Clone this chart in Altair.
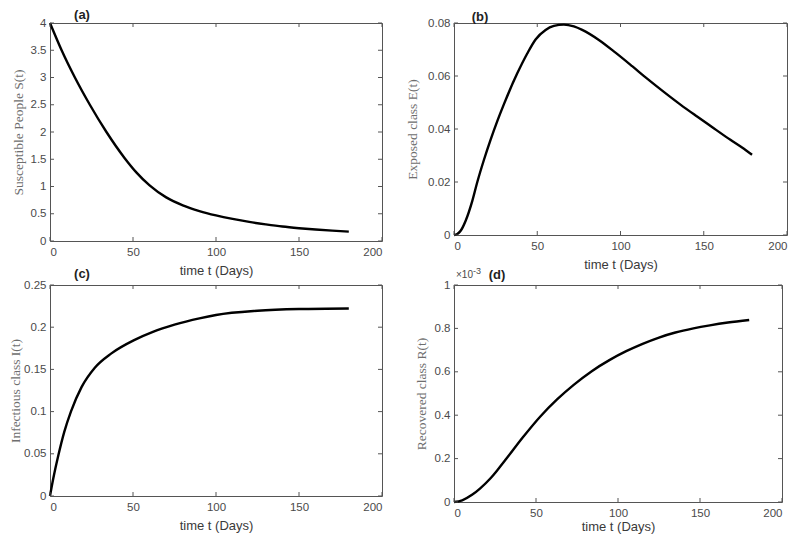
import altair as alt
import pandas as pd

# ---------------- data ----------------
x_ticks = [0, 50, 100, 150, 200]

# (a) Susceptible people S(t)
time_a = [0, 7, 15, 24, 34, 45, 52, 60, 70, 80, 90, 100, 110, 120, 130, 140, 150, 160, 170, 180]
susceptible = [4.0, 3.5, 3.0, 2.5, 2.0, 1.52, 1.26, 1.02, 0.8, 0.655, 0.55, 0.47, 0.405, 0.35,
               0.305, 0.265, 0.235, 0.21, 0.19, 0.172]
ticks_a = [0, 0.5, 1, 1.5, 2, 2.5, 3, 3.5, 4]

# (b) Exposed class E(t)
time_b = [0, 2, 4, 7, 11, 14, 18, 22, 26, 30, 38, 44, 49, 55, 60, 66, 72, 77, 87, 97, 107, 116,
          126, 136, 146, 156, 166, 173, 179]
exposed = [0, 0.0004, 0.0016, 0.0054, 0.0129, 0.02, 0.0284, 0.036, 0.043, 0.0494, 0.061, 0.0685,
           0.0738, 0.0774, 0.0789, 0.0794, 0.0787, 0.0774, 0.0736, 0.0688, 0.0637, 0.059, 0.054,
           0.0492, 0.0447, 0.0403, 0.0359, 0.033, 0.0303]
ticks_b = [0, 0.02, 0.04, 0.06, 0.08]

# (c) Infectious class I(t)
time_c = [0, 2, 5, 8.6, 12.6, 19, 27, 37, 51, 62, 75, 90, 100, 125, 150, 180]
infectious = [0, 0.021, 0.048, 0.076, 0.1, 0.129, 0.152, 0.169, 0.185, 0.1945, 0.203, 0.2105,
              0.2145, 0.2195, 0.2215, 0.2222]
ticks_c = [0, 0.05, 0.1, 0.15, 0.2, 0.25]

# (d) Recovered class R(t), in units of 10^-3
time_d = [0, 5, 11, 16, 22, 27, 32, 42, 52.5, 63, 73, 84, 95, 105, 115, 125, 135, 146, 156, 167,
          180]
recovered_e3 = [0, 0.008, 0.033, 0.063, 0.107, 0.152, 0.2, 0.298, 0.393, 0.474, 0.54, 0.603, 0.655,
                0.695, 0.729, 0.758, 0.781, 0.8, 0.814, 0.827, 0.839]
ticks_d = [0, 0.2, 0.4, 0.6, 0.8, 1]

FRAME = "#555555"
LABEL = "#4a4a4a"
YTITLE = "#6e6e6e"
SANS = "Liberation Sans"
SERIF = "Liberation Serif"


def panel(times, values, yticks, ytitle, w, h, tag, tag_dx, tag_dy, ytpad, xtpad, extra=None):
    df = pd.DataFrame({"t": times, "v": values})
    xs = alt.Scale(domain=[0, 200], nice=False)
    ys = alt.Scale(domain=[yticks[0], yticks[-1]], nice=False)
    xax = alt.Axis(
        values=x_ticks, format="d", title="time t (Days)", ticks=False, tickSize=0,
        domain=False, grid=False, labelFont=SANS, labelFontSize=11.5, labelColor=LABEL,
        labelPadding=5, titleFont=SANS, titleFontSize=13, titleFontWeight="normal",
        titleColor="#3a3a3a", titlePadding=xtpad)
    yax = alt.Axis(
        values=yticks, format="~g", title=ytitle, ticks=False, tickSize=0,
        domain=False, grid=False, labelFont=SANS, labelFontSize=11.5, labelColor=LABEL,
        labelPadding=4, titleFont=SERIF, titleFontSize=13.5, titleFontWeight="normal",
        titleColor=YTITLE, titlePadding=ytpad)
    X = lambda: alt.X("t:Q", scale=xs, axis=xax, title="time t (Days)")
    Y = lambda: alt.Y("v:Q", scale=ys, axis=yax, title=ytitle)
    line = alt.Chart(df).mark_line(color="black", strokeWidth=2.4, interpolate="monotone").encode(
        x=X(), y=Y())
    xt = pd.DataFrame({"t": x_ticks})
    yt = pd.DataFrame({"v": yticks})
    rule = dict(color=FRAME, strokeWidth=1)
    xb = alt.Chart(xt).mark_rule(**rule).encode(x=X(), y=alt.value(h), y2=alt.value(h - 4))
    xtp = alt.Chart(xt).mark_rule(**rule).encode(x=X(), y=alt.value(0), y2=alt.value(4))
    yl = alt.Chart(yt).mark_rule(**rule).encode(y=Y(), x=alt.value(0), x2=alt.value(4))
    yr = alt.Chart(yt).mark_rule(**rule).encode(y=Y(), x=alt.value(w - 4), x2=alt.value(w))
    lab = alt.Chart(pd.DataFrame({"k": [tag]})).mark_text(
        font=SANS, fontSize=13, fontWeight="bold", color="#222222", align="center",
        baseline="middle").encode(x=alt.value(tag_dx), y=alt.value(tag_dy), text="k:N")
    layers = [line, xb, xtp, yl, yr, lab]
    if extra:
        layers += extra
    return alt.layer(*layers).properties(width=w, height=h)


exp_a = alt.Chart(pd.DataFrame({"k": ["\u00d710"]})).mark_text(
    font=SANS, fontSize=10, color=LABEL, align="left", baseline="middle").encode(
    x=alt.value(2), y=alt.value(-10), text="k:N")
exp_b = alt.Chart(pd.DataFrame({"k": ["-3"]})).mark_text(
    font=SANS, fontSize=9, color=LABEL, align="left", baseline="middle").encode(
    x=alt.value(19), y=alt.value(-14), text="k:N")

pa = panel(time_a, susceptible, ticks_a, "Susceptible People S(t)", 332, 218, "(a)", 32, -8, 5, 7)
pb = panel(time_b, exposed, ticks_b, "Exposed class E(t)", 333, 212, "(b)", 26, -6, 8, 7)
pc = panel(time_c, infectious, ticks_c, "Infectious class I(t)", 332, 211, "(c)", 32, -11, 1, 7)
pd_ = panel(time_d, recovered_e3, ticks_d, "Recovered class R(t)", 328, 217, "(d)", 43, -10, 6, 2,
            extra=[exp_a, exp_b])

chart = alt.concat(pa, pb, pc, pd_, columns=2, spacing={"row": 44, "column": 72},
                   bounds="flush").properties(
    padding=0, background="white"
).configure_view(stroke=FRAME, strokeWidth=1)

chart.save("out.html", embed_options={"renderer": "svg", "actions": False})
